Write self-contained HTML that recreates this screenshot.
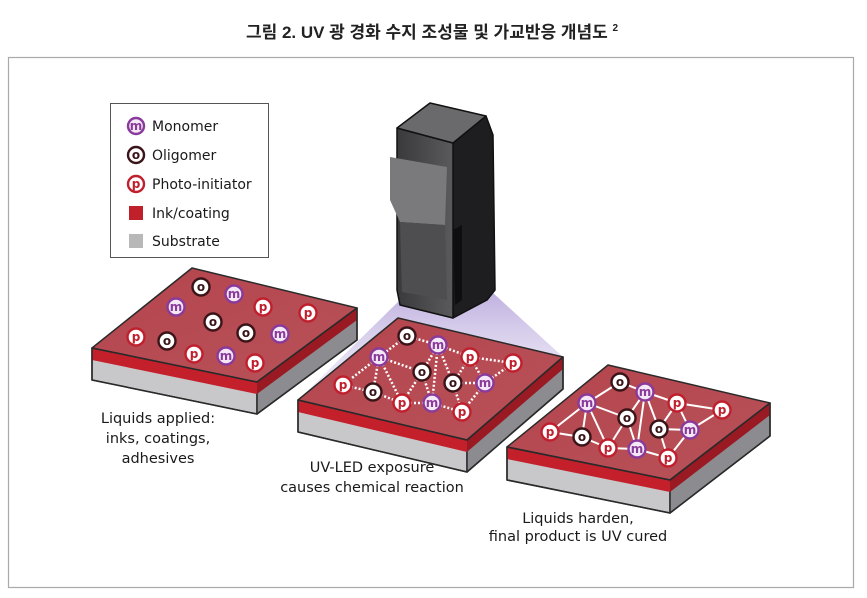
<!DOCTYPE html>
<html><head><meta charset="utf-8"><style>
html,body{margin:0;padding:0;background:#fff;}
svg{display:block;}
.t{font-family:"Liberation Sans","Noto Sans CJK KR",sans-serif;}
.lb{font-family:"DejaVu Sans","Liberation Sans",sans-serif;font-size:14px;fill:#1a1a1a;}
.mo circle{fill:#fff;stroke-width:2.4;}
.mo text{font-family:"DejaVu Sans","Liberation Sans",sans-serif;font-size:12px;font-weight:bold;text-anchor:middle;}
.o circle{stroke:#3a1418;} .o text{fill:#3a1418;}
.m circle{stroke:#8a3a9a;fill:#f4e8f6;} .m text{fill:#8a3a9a;}
.p circle{stroke:#c0202e;} .p text{fill:#c0202e;}
</style></head><body>
<svg width="867" height="598" viewBox="0 0 867 598" xmlns="http://www.w3.org/2000/svg">
<defs>
<linearGradient id="cone" x1="0" y1="0" x2="0" y2="1"><stop offset="0" stop-color="#b8a8dc" stop-opacity="0.9"/><stop offset="1" stop-color="#e8e2f4" stop-opacity="0.5"/></linearGradient>
<linearGradient id="top" x1="0" y1="0" x2="1" y2="1"><stop offset="0" stop-color="#b4444c"/><stop offset="1" stop-color="#b8525a"/></linearGradient>
<linearGradient id="cf" x1="0" y1="0" x2="1" y2="0"><stop offset="0" stop-color="#3a3a3c"/><stop offset="1" stop-color="#5a5a5c"/></linearGradient>
</defs>
<text x="432" y="38" class="t" font-size="17" font-weight="bold" text-anchor="middle" fill="#222">그림 2. UV 광 경화 수지 조성물 및 가교반응 개념도 <tspan font-size="10" dy="-7">2</tspan></text>
<rect x="8.5" y="57.5" width="845" height="530" fill="#fff" stroke="#aaa" stroke-width="1.2"/>

<!-- legend -->
<rect x="110.5" y="103.5" width="158" height="154" fill="#fff" stroke="#555" stroke-width="1"/>
<g class="mo m" transform="translate(136,126)"><circle r="8"/><text y="4">m</text></g>
<g class="mo o" transform="translate(136,155)"><circle r="8"/><text y="4">o</text></g>
<g class="mo p" transform="translate(136,184)"><circle r="8"/><text y="4">p</text></g>
<rect x="129" y="206" width="14" height="14" fill="#c0202a"/>
<rect x="129" y="234" width="14" height="14" fill="#b8b8b8"/>
<text x="152" y="131" class="lb">Monomer</text>
<text x="152" y="160" class="lb">Oligomer</text>
<text x="152" y="189" class="lb">Photo-initiator</text>
<text x="152" y="218" class="lb">Ink/coating</text>
<text x="152" y="246" class="lb">Substrate</text>

<!-- slab 1 -->
<g stroke="#2a2a2a" stroke-width="1.5" stroke-linejoin="round">
<polygon points="92,348 257,382 257,414 92,380" fill="#c8c8ca"/>
<polygon points="257,382 357,308 357,340 257,414" fill="#8c8c90"/>
<polygon points="92,348 257,382 257,394 92,360" fill="#c4202c" stroke="none"/>
<polygon points="257,382 357,308 357,320 257,394" fill="#9a1a24" stroke="none"/>
<polygon points="92,348 192,268 357,308 257,382" fill="url(#top)"/>
<polygon points="92,348 257,382 357,308 357,340 257,414 92,380" fill="none"/>
</g>
<!-- light cone -->
<polygon points="402,298 492,292 563,357 298,400" fill="url(#cone)"/>
<!-- slab 2 -->
<g stroke="#2a2a2a" stroke-width="1.5" stroke-linejoin="round">
<polygon points="298,400 467,440 467,472 298,432" fill="#c8c8ca"/>
<polygon points="467,440 563,357 563,389 467,472" fill="#8c8c90"/>
<polygon points="298,400 467,440 467,452 298,412" fill="#c4202c" stroke="none"/>
<polygon points="467,440 563,357 563,369 467,452" fill="#9a1a24" stroke="none"/>
<polygon points="298,400 398,318 563,357 467,440" fill="url(#top)"/>
<polygon points="298,400 467,440 563,357 563,389 467,472 298,432" fill="none"/>
</g>
<!-- slab 3 -->
<g stroke="#2a2a2a" stroke-width="1.5" stroke-linejoin="round">
<polygon points="507,447 670,480 670,513 507,480" fill="#c8c8ca"/>
<polygon points="670,480 770,403 770,436 670,513" fill="#8c8c90"/>
<polygon points="507,447 670,480 670,492 507,459" fill="#c4202c" stroke="none"/>
<polygon points="670,480 770,403 770,415 670,492" fill="#9a1a24" stroke="none"/>
<polygon points="507,447 608,365 770,403 670,480" fill="url(#top)"/>
<polygon points="507,447 670,480 770,403 770,436 670,513 507,480" fill="none"/>
</g>

<!-- camera -->
<g stroke="#111" stroke-width="1.5" stroke-linejoin="round">
<polygon points="453,143 486,116 493,135 495,290 487,300 453,318" fill="#1e1e20"/>
<polygon points="397,128 453,143 453,318 400,305 397,290" fill="url(#cf)"/>
<polygon points="397,128 430,103 486,116 453,143" fill="#6a6a6c"/>
<polygon points="390,157 447,167 445,225 400,222 390,200" fill="#7a7a7c" stroke="none"/>
<polygon points="400,222 445,225 447,300 402,292" fill="#4e4e50" stroke="none"/>
<polygon points="453,230 462,225 462,300 455,305" fill="#0e0e10" stroke="none"/>
</g>

<!-- slab2 links dotted -->
<g stroke="#fff" stroke-width="2.5" stroke-dasharray="2 2" fill="none">
<path d="M407,336L438,345M407,336L379,357M438,345L470,357M470,357L513,363M379,357L422,372M438,345L422,372M438,345L432,403M438,345L453,383M379,357L343,385M379,357L373,392M379,357L402,403M343,385L373,392M373,392L402,403M402,403L432,403M432,403L462,412M422,372L402,403M422,372L432,403M453,383L485,383M470,357L453,383M470,357L485,383M513,363L485,383M485,383L462,412M453,383L462,412"/>
</g>
<!-- slab3 links solid -->
<g stroke="#fff" stroke-width="2" fill="none">
<path d="M620,382L645,392M620,382L587,403M645,392L677,403M677,403L722,410M587,403L627,418M645,392L627,418M645,392L637,449M645,392L659,429M587,403L550,432M587,403L582,437M587,403L608,448M550,432L582,437M582,437L608,448M608,448L637,449M637,449L668,458M627,418L608,448M627,418L637,449M659,429L690,430M677,403L659,429M677,403L690,430M722,410L690,430M690,430L668,458M659,429L668,458"/>
</g>

<!-- molecules slab1 -->
<g class="mo o" transform="translate(201,287)"><circle r="8.5"/><text y="4">o</text></g>
<g class="mo m" transform="translate(234,294)"><circle r="8.5"/><text y="4">m</text></g>
<g class="mo m" transform="translate(176,307)"><circle r="8.5"/><text y="4">m</text></g>
<g class="mo p" transform="translate(263,307)"><circle r="8.5"/><text y="4">p</text></g>
<g class="mo p" transform="translate(308,313)"><circle r="8.5"/><text y="4">p</text></g>
<g class="mo o" transform="translate(213,322)"><circle r="8.5"/><text y="4">o</text></g>
<g class="mo o" transform="translate(246,333)"><circle r="8.5"/><text y="4">o</text></g>
<g class="mo m" transform="translate(280,334)"><circle r="8.5"/><text y="4">m</text></g>
<g class="mo p" transform="translate(136,337)"><circle r="8.5"/><text y="4">p</text></g>
<g class="mo o" transform="translate(167,341)"><circle r="8.5"/><text y="4">o</text></g>
<g class="mo p" transform="translate(194,354)"><circle r="8.5"/><text y="4">p</text></g>
<g class="mo m" transform="translate(226,356)"><circle r="8.5"/><text y="4">m</text></g>
<g class="mo p" transform="translate(255,363)"><circle r="8.5"/><text y="4">p</text></g>
<!-- slab2 -->
<g class="mo o" transform="translate(407,336)"><circle r="8.5"/><text y="4">o</text></g>
<g class="mo m" transform="translate(438,345)"><circle r="8.5"/><text y="4">m</text></g>
<g class="mo m" transform="translate(379,357)"><circle r="8.5"/><text y="4">m</text></g>
<g class="mo p" transform="translate(470,357)"><circle r="8.5"/><text y="4">p</text></g>
<g class="mo p" transform="translate(513,363)"><circle r="8.5"/><text y="4">p</text></g>
<g class="mo o" transform="translate(422,372)"><circle r="8.5"/><text y="4">o</text></g>
<g class="mo o" transform="translate(453,383)"><circle r="8.5"/><text y="4">o</text></g>
<g class="mo m" transform="translate(485,383)"><circle r="8.5"/><text y="4">m</text></g>
<g class="mo p" transform="translate(343,385)"><circle r="8.5"/><text y="4">p</text></g>
<g class="mo o" transform="translate(373,392)"><circle r="8.5"/><text y="4">o</text></g>
<g class="mo p" transform="translate(402,403)"><circle r="8.5"/><text y="4">p</text></g>
<g class="mo m" transform="translate(432,403)"><circle r="8.5"/><text y="4">m</text></g>
<g class="mo p" transform="translate(462,412)"><circle r="8.5"/><text y="4">p</text></g>
<!-- slab3 -->
<g class="mo o" transform="translate(620,382)"><circle r="8.5"/><text y="4">o</text></g>
<g class="mo m" transform="translate(645,392)"><circle r="8.5"/><text y="4">m</text></g>
<g class="mo m" transform="translate(587,403)"><circle r="8.5"/><text y="4">m</text></g>
<g class="mo p" transform="translate(677,403)"><circle r="8.5"/><text y="4">p</text></g>
<g class="mo p" transform="translate(722,410)"><circle r="8.5"/><text y="4">p</text></g>
<g class="mo o" transform="translate(627,418)"><circle r="8.5"/><text y="4">o</text></g>
<g class="mo o" transform="translate(659,429)"><circle r="8.5"/><text y="4">o</text></g>
<g class="mo m" transform="translate(690,430)"><circle r="8.5"/><text y="4">m</text></g>
<g class="mo p" transform="translate(550,432)"><circle r="8.5"/><text y="4">p</text></g>
<g class="mo o" transform="translate(582,437)"><circle r="8.5"/><text y="4">o</text></g>
<g class="mo p" transform="translate(608,448)"><circle r="8.5"/><text y="4">p</text></g>
<g class="mo m" transform="translate(637,449)"><circle r="8.5"/><text y="4">m</text></g>
<g class="mo p" transform="translate(668,458)"><circle r="8.5"/><text y="4">p</text></g>

<!-- captions -->
<g class="lb" text-anchor="middle" style="font-size:14.5px">
<text x="158" y="423">Liquids applied:</text>
<text x="158" y="443">inks, coatings,</text>
<text x="158" y="463">adhesives</text>
<text x="372" y="472">UV-LED exposure</text>
<text x="372" y="492">causes chemical reaction</text>
<text x="578" y="523">Liquids harden,</text>
<text x="578" y="541">final product is UV cured</text>
</g>
</svg>
</body></html>
